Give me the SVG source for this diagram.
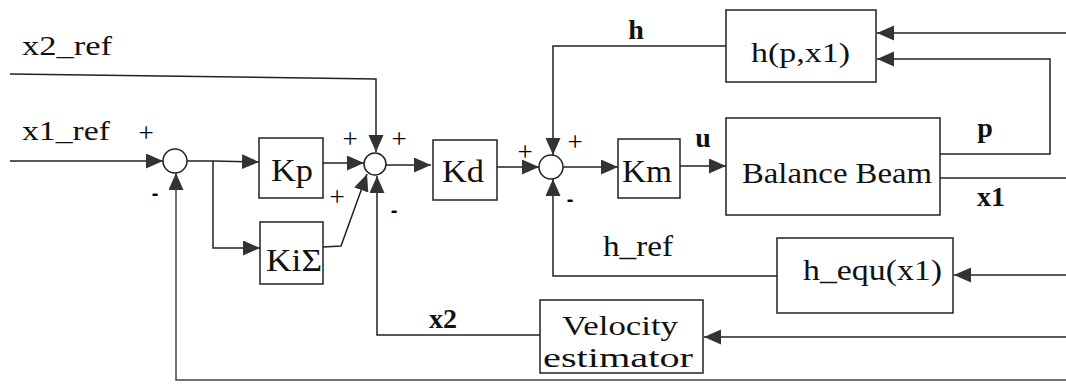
<svg xmlns="http://www.w3.org/2000/svg" width="1066" height="385" viewBox="0 0 1066 385">
<style>
.box{fill:#fff;stroke:#222;stroke-width:1.5}
.sum{fill:#fff;stroke:#222;stroke-width:1.5}
.ln{fill:none;stroke:#222;stroke-width:1.5;stroke-linejoin:miter}
.ar{marker-end:url(#ah)}
</style>
<defs>
<marker id="ah" markerUnits="userSpaceOnUse" markerWidth="18" markerHeight="16" refX="17" refY="7.5" orient="auto">
<path d="M0,0 L17,7.5 L0,15 z" fill="#333"/>
</marker>
</defs>
<rect width="1066" height="385" fill="#fff"/>

<g id="connectors">
<polyline class="ln ar" points="10,74 376,79 376,152"/>
<line class="ln ar" x1="10" y1="161" x2="163" y2="161"/>
<polyline class="ln ar" points="187,161 213,161 259,162"/>
<polyline class="ln ar" points="213,161 213,248 260,248"/>
<line class="ln ar" x1="323" y1="163" x2="364" y2="163"/>
<polyline class="ln ar" points="323,247 341,246 367,174"/>
<polyline class="ln ar" points="540,335 377,335 377,176"/>
<line class="ln ar" x1="386" y1="165" x2="431" y2="165"/>
<line class="ln ar" x1="497" y1="167" x2="539" y2="167"/>
<polyline class="ln ar" points="726,46 553,46 553,155"/>
<line class="ln ar" x1="563" y1="167" x2="618" y2="167"/>
<polyline class="ln ar" points="777,276 553,276 553,179"/>
<line class="ln ar" x1="680" y1="166" x2="726" y2="166"/>
<polyline class="ln ar" points="940,154 1050,154 1050,59 877,59"/>
<line class="ln ar" x1="1066" y1="33" x2="877" y2="33"/>
<line class="ln" x1="940" y1="178" x2="1066" y2="178"/>
<line class="ln ar" x1="1066" y1="275" x2="954" y2="275"/>
<line class="ln ar" x1="1066" y1="337" x2="704" y2="337"/>
<polyline class="ln ar" points="1066,380 176,380 176,173" style="stroke:#444"/>
</g>

<g id="sum1"><circle class="sum" cx="175" cy="161" r="12"/></g>
<g id="sum2"><circle class="sum" cx="375" cy="164" r="11"/></g>
<g id="sum3"><circle class="sum" cx="551" cy="167" r="12"/></g>

<g font-family="Liberation Serif, Times New Roman, serif" font-size="28" fill="#111">
<g id="Kp"><rect class="box" x="259" y="138" width="64" height="60"/><text x="271" y="181" textLength="42" lengthAdjust="spacingAndGlyphs" font-size="32">Kp</text></g>
<g id="Ki"><rect class="box" x="260" y="222" width="63" height="62"/><text x="266" y="271" textLength="56" lengthAdjust="spacingAndGlyphs" font-size="31">KiΣ</text></g>
<g id="Kd"><rect class="box" x="433" y="140" width="64" height="60"/><text x="442" y="182" textLength="42" lengthAdjust="spacingAndGlyphs" font-size="32">Kd</text></g>
<g id="Km"><rect class="box" x="618" y="139" width="62" height="59"/><text x="622" y="182" textLength="50" lengthAdjust="spacingAndGlyphs" font-size="32">Km</text></g>
<g id="beam"><rect class="box" x="726" y="118" width="214" height="97"/><text x="742" y="183" textLength="190" lengthAdjust="spacingAndGlyphs" font-size="29">Balance Beam</text></g>
<g id="hpx1"><rect class="box" x="726" y="10" width="150" height="72"/><text x="751" y="62" textLength="99" lengthAdjust="spacingAndGlyphs">h(p,x1)</text></g>
<g id="hequ"><rect class="box" x="777" y="238" width="176" height="75"/><text x="803" y="280" textLength="139" lengthAdjust="spacingAndGlyphs" font-size="29">h_equ(x1)</text></g>
<g id="velocity"><rect class="box" x="540" y="300" width="163" height="73"/><text x="562" y="335" textLength="116" lengthAdjust="spacingAndGlyphs">Velocity</text><text x="543" y="367" textLength="150" lengthAdjust="spacingAndGlyphs">estimator</text></g>

<g id="labels">
<text x="22" y="55" textLength="90" lengthAdjust="spacingAndGlyphs">x2_ref</text>
<text x="22" y="140" textLength="88" lengthAdjust="spacingAndGlyphs">x1_ref</text>
<text x="636" y="39" font-weight="bold" text-anchor="middle">h</text>
<text x="703" y="147" font-weight="bold" text-anchor="middle">u</text>
<text x="985" y="137" font-weight="bold" text-anchor="middle">p</text>
<text x="991" y="206" font-weight="bold" text-anchor="middle">x1</text>
<text x="443" y="328" font-weight="bold" text-anchor="middle">x2</text>
<text x="603" y="256" textLength="70" lengthAdjust="spacingAndGlyphs" font-size="29">h_ref</text>
<g font-size="27" text-anchor="middle" fill="#000">
<text x="146" y="142">+</text>
<text x="350" y="148">+</text>
<text x="399" y="148">+</text>
<text x="337" y="206">+</text>
<text x="525" y="161">+</text>
<text x="575" y="151">+</text>
</g>
<g font-family="Liberation Sans, Arial, sans-serif" font-weight="bold" font-size="20" text-anchor="middle" fill="#000">
<text x="155" y="200">-</text>
<text x="394" y="217">-</text>
<text x="570" y="206">-</text>
</g>
</g>
</g>
</svg>
